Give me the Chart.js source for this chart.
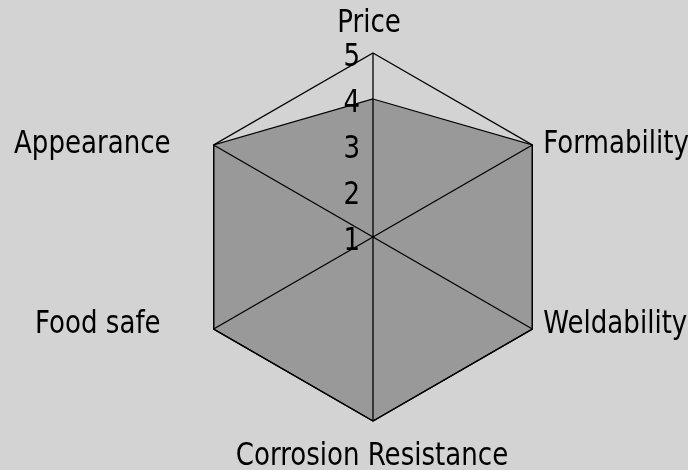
<!DOCTYPE html>
<html>
<head>
<meta charset="utf-8">
<title>Radar</title>
<script src="https://cdn.jsdelivr.net/npm/chart.js"></script>
<style>
  body { margin: 0; background: #d3d3d3; }
  #grafico { display: block; }
</style>
</head>
<body>
<canvas id="grafico" width="688" height="470"></canvas>
<script>
// datos del grafico
const categorias = ["Price", "Formability", "Weldability", "Corrosion Resistance", "Food safe", "Appearance"];
const valores = [4, 5, 5, 5, 5, 5];
const marcas = [1, 2, 3, 4, 5];

const FUENTE = '29px "DejaVu Sans Condensed", "DejaVu Sans", sans-serif';
const ESTIRAR = 1.1; // la letra original es algo mas alta que ancha

// etiquetas de los ejes: se ubican desde el vertice que da la escala
const ajustes = [
  { align: "center", dx: -4, dy: -21 },
  { align: "left", dx: 11, dy: 8 },
  { align: "left", dx: 11, dy: 4 },
  { align: "center", dx: -1, dy: 44 },
  { align: "right", dx: -53, dy: 4 },
  { align: "right", dx: -43, dy: 8 }
];

function texto(ctx, t, x, y) {
  ctx.save();
  ctx.translate(x, y);
  ctx.scale(1, ESTIRAR);
  ctx.fillText(t, 0, 0);
  ctx.restore();
}

const etiquetas = {
  id: "etiquetas",
  afterDraw(chart) {
    const escala = chart.scales.r;
    const ctx = chart.ctx;
    ctx.save();
    ctx.font = FUENTE;
    ctx.fillStyle = "#000";
    ctx.textBaseline = "alphabetic";

    categorias.forEach((nombre, i) => {
      const p = escala.getPointPosition(i, escala.drawingArea);
      const a = ajustes[i];
      ctx.textAlign = a.align;
      texto(ctx, nombre, p.x + a.dx, p.y + a.dy);
    });

    // numeros de la escala, a la izquierda del eje
    ctx.textAlign = "right";
    marcas.forEach((v) => {
      const y = escala.yCenter - escala.getDistanceFromCenterForValue(v);
      texto(ctx, String(v), escala.xCenter - 13, y + 13);
    });
    ctx.restore();
  }
};

const grafico = new Chart(document.getElementById("grafico"), {
  type: "radar",
  data: {
    labels: categorias,
    datasets: [{
      data: valores,
      borderColor: "#000",
      borderWidth: 1.3,
      backgroundColor: "#999999",
      fill: true,
      pointRadius: 0,
      tension: 0
    }]
  },
  options: {
    responsive: false,
    animation: false,
    layout: { padding: { left: 58, right: 0, top: 53, bottom: 49 } },
    plugins: {
      legend: { display: false },
      tooltip: { enabled: false }
    },
    scales: {
      r: {
        min: 1,
        max: 5,
        ticks: { display: false, stepSize: 1 },
        pointLabels: { display: false },
        grid: {
          z: 1,
          lineWidth: 1.3,
          color: (c) => (c.tick && c.tick.value === 5 ? "#000" : "rgba(0,0,0,0)")
        },
        angleLines: { color: "#000", lineWidth: 1.3 }
      }
    }
  },
  plugins: [etiquetas]
});
</script>
</body>
</html>
